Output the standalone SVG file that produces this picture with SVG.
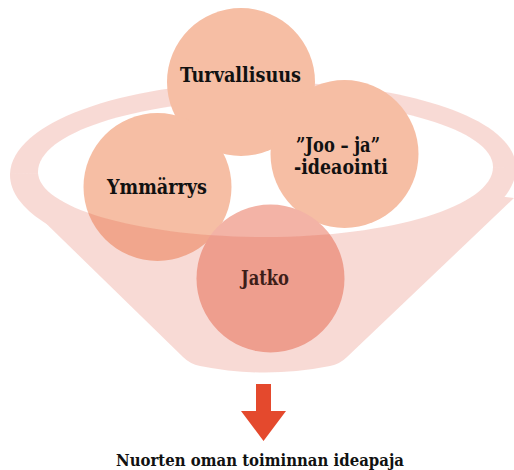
<svg xmlns="http://www.w3.org/2000/svg" width="514" height="470" viewBox="0 0 514 470">
  <style>
    .lbl { font-family: "DejaVu Serif", "Liberation Serif", serif; font-weight: bold; fill: #111; }
    .c { fill: #f6bea4; }
    .cj { fill: #f3b3a6; }
    .funnel { fill: #de4f37; fill-opacity: 0.21; }
  </style>
  <defs>
    <mask id="funnelMask" maskUnits="userSpaceOnUse" x="0" y="0" width="514" height="470">
      <path fill="#fff" d="M10,175 C10,122.5 124,82 264,82 C404,82 516,118 516,168 C516,220 404,270 264,270 C124,270 10,227 10,175 Z"/>
      <path fill="#fff" d="M22,200 L183,357 Q190,364 200,366 Q265,379 330,366 Q340,364 347,357 L514,198 L264,170 Z"/>
      <path fill="#000" d="M38,172 C38,132 141,100 268,100 C392,100 493,130 493,167 C493,206 391,237 265,237 C140,237 38,208 38,172 Z"/>
    </mask>
    <clipPath id="backClip"><polygon points="0,0 514,0 514,167 0,174"/></clipPath>
    <clipPath id="frontClip"><polygon points="0,174 514,167 514,470 0,470"/></clipPath>
  </defs>

  <g id="funnel-back">
    <rect class="funnel" x="0" y="0" width="514" height="470" mask="url(#funnelMask)" clip-path="url(#backClip)"/>
  </g>

  <g id="node-turvallisuus">
    <circle class="c" cx="241" cy="82" r="74"/>
    <text class="lbl" x="180" y="82" font-size="20" textLength="121" lengthAdjust="spacingAndGlyphs">Turvallisuus</text>
  </g>
  <g id="node-ymmarrys">
    <circle class="c" cx="157.5" cy="187" r="74"/>
    <text class="lbl" x="107" y="194" font-size="20" textLength="100" lengthAdjust="spacingAndGlyphs">Ymmärrys</text>
  </g>
  <g id="node-joo-ja">
    <circle class="c" cx="344.5" cy="154" r="74"/>
    <text class="lbl" x="296" y="152" font-size="20" textLength="84" lengthAdjust="spacingAndGlyphs">”Joo – ja”</text>
    <text class="lbl" x="294" y="174" font-size="20" textLength="94" lengthAdjust="spacingAndGlyphs">-ideaointi</text>
  </g>
  <g id="node-jatko">
    <circle class="cj" cx="270.5" cy="278.5" r="74"/>
    <text class="lbl" x="241" y="285" font-size="20" textLength="48" lengthAdjust="spacingAndGlyphs">Jatko</text>
  </g>

  <g id="funnel-front">
    <rect class="funnel" x="0" y="0" width="514" height="470" mask="url(#funnelMask)" clip-path="url(#frontClip)"/>
  </g>

  <g id="connectors">
    <path d="M256,384 H271 V411 H286 L263.5,441 L241,411 H256 Z" fill="#e4492d"/>
  </g>

  <g id="node-result">
    <text class="lbl" x="116" y="466" font-size="16.5" textLength="288" lengthAdjust="spacingAndGlyphs">Nuorten oman toiminnan ideapaja</text>
  </g>
</svg>
